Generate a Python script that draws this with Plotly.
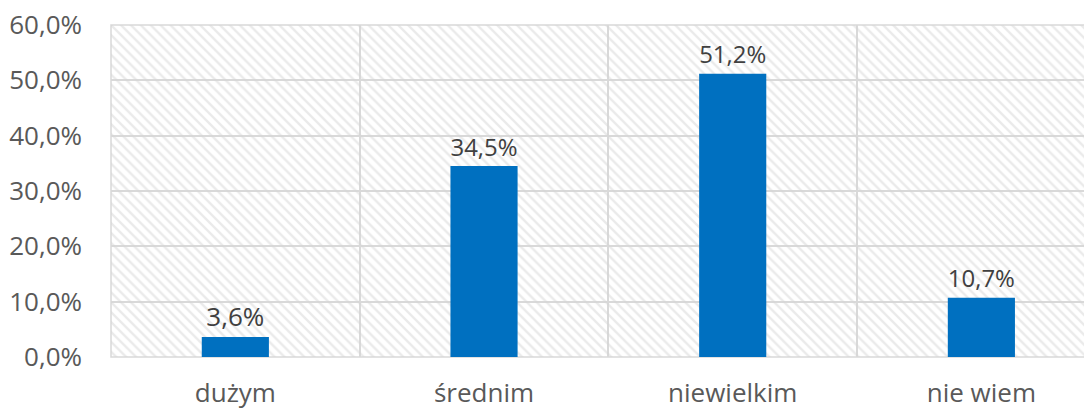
import plotly.graph_objects as go

categories = ["dużym", "średnim", "niewielkim", "nie wiem"]
values = [3.6, 34.5, 51.2, 10.7]
labels = ["3,6%", "34,5%", "51,2%", "10,7%"]
y_ticks = [0, 10, 20, 30, 40, 50, 60]
y_tick_labels = ["0,0%", "10,0%", "20,0%", "30,0%", "40,0%", "50,0%", "60,0%"]
y_max = 60

FONT = "Open Sans"
GRID = "#d9d9d9"

fig = go.Figure()

# hatched plot background, drawn as one transparent bar under the data
fig.add_trace(
    go.Bar(
        x=[categories[0]],
        y=[y_max],
        width=[len(categories)],
        offset=-0.5,
        marker={
            "color": "rgba(0,0,0,0)",
            "line": {"width": 0},
            "pattern": {
                "shape": "\\",
                "fgcolor": "#d6d6d6",
                "bgcolor": "rgba(0,0,0,0)",
                "size": 7,
                "solidity": 0.35,
            },
        },
        hoverinfo="skip",
        showlegend=False,
    )
)

fig.add_trace(
    go.Bar(
        x=categories,
        y=values,
        width=0.27,
        text=labels,
        textposition="outside",
        textfont={"family": FONT, "size": 26, "color": "#404040"},
        cliponaxis=False,
        marker={"color": "#0070c0", "line": {"width": 0}},
        showlegend=False,
    )
)

# plot-area border
fig.add_shape(
    type="rect",
    xref="x domain",
    yref="y domain",
    x0=0,
    x1=1,
    y0=0,
    y1=1,
    line={"color": GRID, "width": 1.5},
    layer="below",
)

# the page body has an 8px margin, so the figure is shifted to compensate
fig.update_layout(
    width=1092,
    height=408,
    margin={"l": 103, "r": 0, "t": 17, "b": 59, "autoexpand": False},
    paper_bgcolor="white",
    plot_bgcolor="white",
    barmode="overlay",
    font={"family": FONT, "size": 26, "color": "#595959"},
    xaxis={
        "type": "category",
        "range": [-0.5, 3.477],
        "tickson": "boundaries",
        "showgrid": True,
        "gridcolor": GRID,
        "gridwidth": 1.5,
        "ticks": "",
        "showline": False,
        "zeroline": False,
        "automargin": False,
        "ticklabeloverflow": "allow",
        "ticklabelstandoff": 18,
        "tickfont": {"family": FONT, "size": 26, "color": "#595959"},
    },
    yaxis={
        "range": [0, y_max],
        "tickvals": y_ticks,
        "ticktext": y_tick_labels,
        "showgrid": True,
        "gridcolor": GRID,
        "gridwidth": 1.5,
        "zeroline": False,
        "showline": False,
        "ticks": "",
        "automargin": False,
        "ticklabeloverflow": "allow",
        "ticklabelstandoff": 28,
        "tickfont": {"family": FONT, "size": 26, "color": "#595959"},
    },
)

fig.write_html("out.html")
